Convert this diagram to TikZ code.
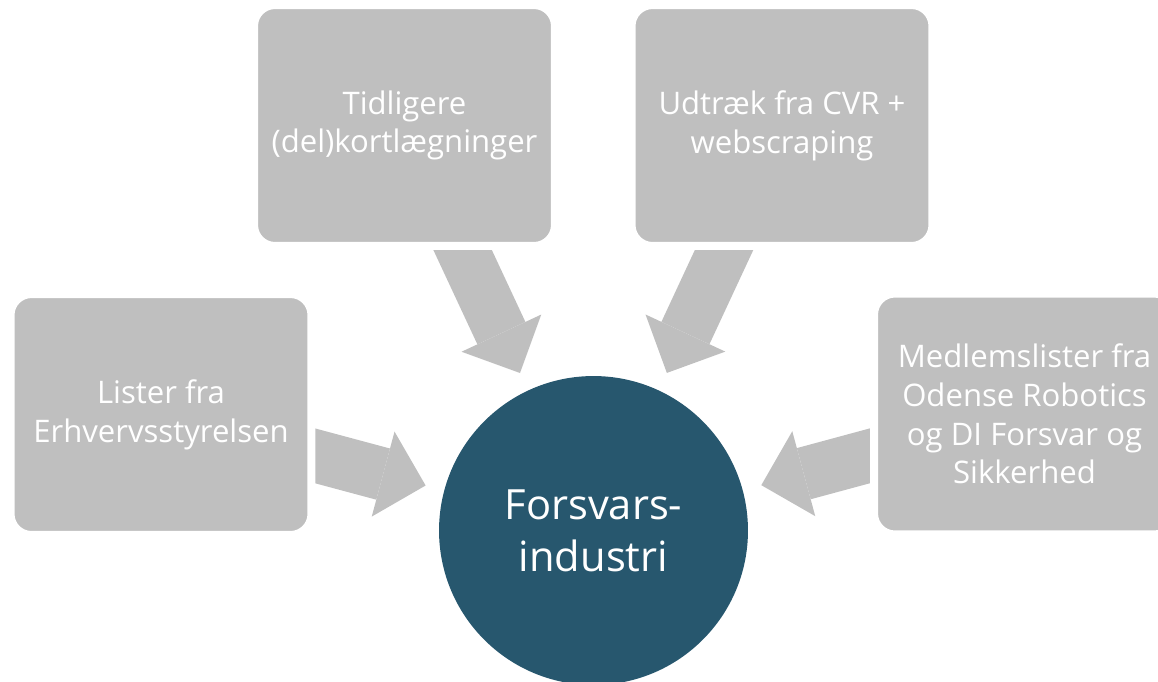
\documentclass[tikz,border=0pt]{standalone}
\usepackage{fontspec}
\setmainfont{Open Sans}
\usetikzlibrary{arrows.meta,backgrounds}
\definecolor{boxgray}{RGB}{191,191,191}
\definecolor{circleblue}{RGB}{39,87,110}
\begin{document}
\begin{tikzpicture}[x=0.02cm,y=-0.02cm,
  kilde/.style={fill=boxgray,draw=white,line width=0.16cm,rounded corners=0.42cm,minimum width=6.02cm,minimum height=4.82cm,inner sep=0pt,align=center,text=white,font=\fontsize{17.7}{22}\selectfont},
  maal/.style={circle,fill=circleblue,minimum size=6.18cm,inner sep=0pt,align=center,text=white,font=\fontsize{23.7}{29.6}\selectfont},
  flow/.style={draw=boxgray,line width=1.06cm,-{Triangle[length=0.88cm,width=1.76cm,line width=0pt]},shorten >=0.38cm}]
\useasboundingbox (0,0) rectangle (1158,681);
\node[maal] (forsvar) at (593.5,530.5) {Forsvars-\\industri};
\node[kilde] (tidl) at (404.5,125.5) {Tidligere\\(del)kortlægninger};
\node[kilde] (udtr) at (782,125.5) {Udtræk fra CVR +\\webscraping};
\node[kilde] (lister) at (161,414.5) {Lister fra\\Erhvervsstyrelsen};
\node[kilde] (medl) at (1024.5,414) {Medlemslister fra\\Odense Robotics\\og DI Forsvar og\\Sikkerhed};
\begin{pgfonlayer}{background}
\foreach \n in {tidl,udtr,lister,medl}
  \draw[flow] (\n.center) -- (forsvar);
\end{pgfonlayer}
\end{tikzpicture}
\end{document}
